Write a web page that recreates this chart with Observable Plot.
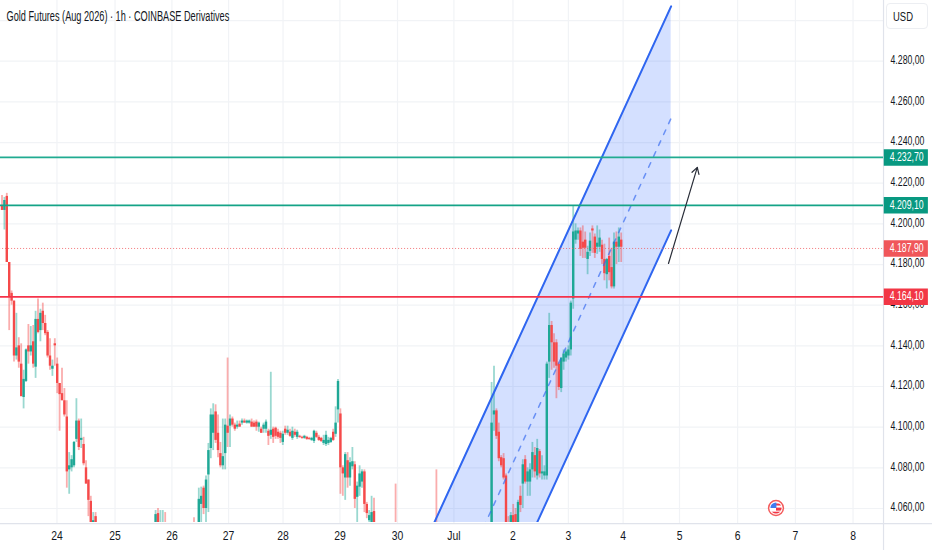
<!DOCTYPE html>
<html><head><meta charset="utf-8">
<script src="https://cdn.jsdelivr.net/npm/d3@7"></script>
<script src="https://cdn.jsdelivr.net/npm/@observablehq/plot@0.6"></script>
<style>
html,body{margin:0;padding:0;background:#fff;overflow:hidden}
#wrap{position:relative;width:932px;height:550px;font-family:"Liberation Sans",sans-serif}
#usd{position:absolute;left:886px;top:3px;width:42px;height:26px;border:1px solid #eceef2;border-radius:4px;box-sizing:border-box;font-size:13.5px;line-height:25px;color:#131722;padding-left:6px;background:#fff}
#usd span{display:inline-block;transform:scaleX(.7);transform-origin:left center}
#flag{position:absolute;left:767px;top:499px}
svg text{font-family:"Liberation Sans",sans-serif}
</style></head><body><div id="wrap"><div id="usd"><span>USD</span></div></div>
<script>
const titleText = "Gold Futures (Aug 2026) · 1h · COINBASE Derivatives";
const dayTicks = [22.9,47.1,70.8,94.4,117.1,140.8,164.8,188.3,212.9,236,258.8,282.3,306.5,330.6,354.6];
const dayLabels = ["24","25","26","27","28","29","30","Jul","2","3","4","5","6","7","8"];
const priceTicks = [4060,4080,4100,4120,4140,4160,4180,4200,4220,4240,4260,4280];
const priceGrid = [4060,4080,4100,4120,4140,4160,4180,4200,4220,4240,4260,4280,4300];

// [open, high, low, close], consecutive hourly bars from each start index
const segmentAStart = 0;
const segmentA = [
[4209,4214,4206.6,4206.6],[4206.6,4213,4197,4211.5],[4213.5,4215,4181,4181],[4181,4181,4147.5,4164],
[4165.8,4167,4160,4162],[4162,4162,4132,4135],[4135,4156,4133,4139],[4140,4144,4129,4132],
[4131,4141,4115,4115],[4114.6,4128,4109,4123.5],[4122.5,4138.5,4122,4138],[4140,4150.5,4131,4137],
[4137,4149.5,4135,4140],[4142,4150,4129,4131],[4129.5,4157,4124,4153],[4153,4163,4146,4146.6],
[4147.5,4158,4142,4156],[4157,4161,4147.5,4151],[4151,4155,4145,4146],[4146.6,4147.5,4134,4135],
[4135,4143.5,4128,4130],[4128.5,4133,4125,4130],[4141,4143.5,4130,4140],[4131,4134,4116.5,4121.5],
[4121.5,4121.5,4098,4116],[4116.5,4129,4113,4113],[4113,4119,4105,4106],[4105,4113,4070,4078],
[4079,4087.5,4067,4081],[4080,4086,4078,4084],[4081,4093,4080,4092.5],[4094,4114,4092.5,4103],
[4103,4104,4088.5,4090],[4093.5,4104,4089.5,4094.5],[4091.5,4095,4081,4082],[4080,4083.5,4072,4072],
[4074,4074,4056,4064],[4063.5,4066,4050,4053],[4048,4058,4045,4054],[4056,4058,4048,4053]];

const segmentBStart = 64;
const segmentB = [
[4045,4059,4040,4057],[4057.5,4060,4045,4045],[4050,4059,4045,4052],[4048,4059,4045,4050],[4050,4058,4045,4048]];

const segmentCStart = 80;
const segmentC = [
[4040,4055.5,4035,4038],[4040,4048,4035,4045],[4053,4070,4050,4064.5],[4062,4070.5,4050,4066],
[4070,4071,4057,4060],[4060,4076,4052,4074],[4076.5,4092,4058,4088.5],[4089.5,4109,4084.5,4106],
[4097,4111.5,4088.5,4106],[4107.5,4111,4092,4093.5],[4097,4106,4085,4088.5],[4087,4092.5,4080,4081],
[4081,4104,4079,4085.5],[4087,4104,4079,4101],[4100.5,4134,4090,4097],[4100.5,4106,4090,4104],
[4104,4105,4100,4101],[4101,4102,4098,4099],[4100,4103,4099,4101],[4101.5,4103,4100,4100],
[4102,4104,4101,4103],[4103,4104,4102,4102],[4102,4103.5,4101.5,4103],[4102,4103.5,4101.5,4103],
[4102.5,4104,4100,4100],[4102,4103,4100,4100],[4102.5,4103.5,4098,4100],[4100,4102.5,4097.5,4102],
[4099,4100,4097,4097],[4099,4102,4097,4101],[4099,4103.5,4097,4102.5],[4098,4099,4091,4095.5],
[4096,4127,4094,4098.5],[4099,4100,4092,4095],[4099.5,4100,4094,4095.5],[4097.5,4099,4094,4095],
[4097,4098,4092,4094.5],[4092.5,4098,4091,4096.5],[4099,4100.5,4096,4097],[4097,4100.5,4096,4098.5],
[4097.5,4099,4095,4095.5],[4094.5,4100,4093.5,4098],[4097.5,4099,4095,4096],[4095,4098.5,4094,4097.5],
[4095.5,4096,4094.5,4095],[4095,4095.5,4094,4094.5],[4094.5,4096,4094,4095.5],[4095,4095.5,4093.5,4094],
[4094.5,4095,4093.5,4094],[4093.5,4095,4093,4094.5],[4093,4098.5,4092,4098],[4097,4098,4094.5,4095],
[4095,4096,4093,4093.5],[4094.5,4095,4092.5,4093],[4092,4096,4091,4093.5],[4091.5,4098,4090.5,4096],
[4092,4095,4091,4093.5],[4092.5,4095,4092,4094.5],[4097.5,4099,4093,4093.5],[4096.5,4110,4095,4102],
[4108.5,4123.5,4102,4122.5],[4106.5,4109,4067,4080],[4080,4081,4066,4077],[4075,4087.5,4064,4086.5],
[4083.5,4087.5,4070,4075],[4075,4085,4071,4082.5],[4080.5,4090,4079,4083],[4081.5,4083,4060,4064.5],
[4065.5,4073,4050,4071],[4070.5,4081,4066,4077],[4073,4079,4070,4078],[4078,4079,4058,4062],
[4062,4063,4055,4057.5],[4054,4059,4050,4056.5],[4053,4066,4050,4058],[4058.5,4065,4050,4053]];

const loneBarIndex = [164,181];
const loneBars = [[4045,4072,4040,4042],[4045,4079,4040,4042]];

const segmentDStart = 204;
const segmentD = [
[4050,4122,4045,4102],[4106,4130,4098,4108],[4108,4109,4094,4095.5],[4097.5,4102,4083,4084.5],
[4085,4086,4080,4081],[4084.5,4087,4074,4075],[4076,4077,4045,4050],[4050,4056,4045,4047],
[4050,4058,4047,4056.5],[4056.5,4062,4050,4050],[4057,4060,4048,4050],[4050,4064,4048,4063],
[4066,4071,4058,4061.5],[4072,4084,4060,4081.5],[4084,4086,4072,4073],[4073,4080,4066,4078],
[4073,4082,4066,4079],[4079,4092.5,4075,4087.5],[4086,4090,4075,4078],[4076,4094,4074,4089.5],
[4088,4089,4075,4077],[4077,4086,4074,4078],[4076,4081,4074,4078],[4076,4132,4074,4131],
[4132,4156,4124,4150],[4150,4152,4128,4141.5],[4141.5,4146,4129,4132],[4141.5,4143,4114,4130],
[4131,4132,4118,4119.5],[4119,4134,4117,4134],[4132,4138,4128,4136],[4134,4138,4132,4137],
[4135,4140,4133,4138],[4138,4162,4135,4161],[4163,4209,4158,4196],[4192,4200,4190,4196.5],
[4195,4198,4192,4196.5],[4196.5,4198,4184,4187.5],[4191,4199,4183,4188],[4192,4196,4183,4188],
[4182.5,4189,4175,4186],[4186.5,4195.5,4184,4191.5],[4197.5,4199,4185.5,4196.5],[4193.5,4195,4183,4185.5],
[4188.5,4199,4185,4190.5],[4188.5,4197,4186,4193],[4189.5,4192,4180,4182.5],[4182.5,4190,4172,4175.5],
[4175,4183,4168,4182.5],[4184,4193,4172,4176],[4178.5,4188,4168,4169],[4169,4195.5,4168,4191],
[4191,4196,4180,4188.5],[4188.5,4198,4181,4193.5],[4192,4195.5,4181,4188.5]];

const channelX = [165.2,278.8];
const channelTop = [4014.7,4307];
const channelMid = [3959.6,4252];
const channelLow = [3904.5,4196.8];
const arrowFrom = [277.7,4180.5];
const arrowTo = [289.7,4227.8];
const levelPrices = [4232.7,4209.1,4164.1];
const levelColors = ["#20ab91","#14a387","#f5334a"];
const currentPrice = 4187.9;
const tagPrices = [4232.7,4209.1,4187.9,4164.1];
const tagLabels = ["4.232,70","4.209,10","4.187,90","4.164,10"];
const tagColors = ["#089981","#089981","#f0565a","#f23645"];
const upColor = "#1fa896";
const downColor = "#f54a4a";

const toBars = (rows, start) => rows.map((r,k)=>({i:start+k,open:r[0],high:r[1],low:r[2],close:r[3]}));
const bars = [...toBars(segmentA,segmentAStart),...toBars(segmentB,segmentBStart),...toBars(segmentC,segmentCStart),
  ...loneBars.map((r,k)=>toBars([r],loneBarIndex[k])[0]),...toBars(segmentD,segmentDStart)];
const barColor = d => d.close>=d.open?upColor:downColor;
const channel = channelX.map((x,k)=>({x,top:channelTop[k],mid:channelMid[k],low:channelLow[k]}));
const fmt = d => d3.format(",.2f")(d).replace(/,/g,"#").replace(".",",").replace(/#/g,".");
const frameRightIndex = 367.3, tagLeft = 367.6, tagRight = 386;

const chart = Plot.plot({
  width:932,height:550,
  marginTop:0,marginLeft:0,marginRight:49,marginBottom:28,
  style:{background:"#fff",color:"#131722",fontFamily:'"Liberation Sans",sans-serif',fontSize:"13.5px"},
  x:{domain:[0,100],range:[1.5,241.5]},
  y:{domain:[4060,4220],range:[508,182.7]},
  color:{type:"identity"},
  marks:[
    Plot.ruleY(priceGrid,{stroke:"#f1f3f6",strokeWidth:1.2,x1:-1,x2:frameRightIndex}),
    Plot.ruleX(dayTicks,{stroke:"#f1f3f6",strokeWidth:1.2,y1:4052.6,y2:4310}),
    Plot.ruleY([4052.6],{stroke:"#e0e3eb",strokeWidth:1.2,x1:-1,x2:388}),
    Plot.ruleX([frameRightIndex],{stroke:"#e0e3eb",strokeWidth:1.2,y1:3990,y2:4310}),
    Plot.axisX({ticks:dayTicks,tickFormat:(d,i)=>dayLabels[i],tickSize:0,tickPadding:8,label:null,anchor:"bottom",fontSize:13}),
    Plot.axisY({anchor:"right",ticks:priceTicks,tickFormat:fmt,tickSize:0,tickPadding:7,dy:-1.5,label:null,fontSize:13.5}),
    Plot.areaY(channel,{x:"x",y1:"low",y2:"top",fill:"#2962ff",fillOpacity:0.2,clip:"frame"}),
    Plot.ruleX(bars,{x:"i",y1:"low",y2:"high",stroke:barColor,strokeWidth:1.8,strokeOpacity:0.45,clip:"frame"}),
    Plot.ruleX(bars,{x:"i",y1:"open",y2:"close",stroke:barColor,strokeWidth:2.4,clip:"frame"}),
    Plot.line(channel,{x:"x",y:"top",stroke:"#2f66f0",strokeWidth:2,clip:"frame"}),
    Plot.line(channel,{x:"x",y:"low",stroke:"#2f66f0",strokeWidth:2,clip:"frame"}),
    Plot.line(channel,{x:"x",y:"mid",stroke:"#2f66f0",strokeWidth:1.5,strokeOpacity:0.65,strokeDasharray:"5 7",clip:"frame"}),
    Plot.ruleY([currentPrice],{stroke:"#f0565a",strokeWidth:1,strokeOpacity:0.8,strokeDasharray:"1 2",x1:-1,x2:frameRightIndex}),
    Plot.ruleY(levelPrices,{stroke:(d,i)=>levelColors[i],strokeWidth:1.7,x1:-1,x2:frameRightIndex}),
    Plot.arrow([0],{x1:()=>arrowFrom[0],y1:()=>arrowFrom[1],x2:()=>arrowTo[0],y2:()=>arrowTo[1],stroke:"#2a2e39",strokeWidth:1.2,headLength:9,bend:false}),
    Plot.ruleY(tagPrices,{stroke:(d,i)=>tagColors[i],strokeWidth:16.5,x1:tagLeft,x2:tagRight}),
    Plot.text(tagPrices,{x:tagLeft,y:d=>d,text:(d,i)=>tagLabels[i],fill:"#fff",textAnchor:"start",dx:5.5,dy:-1,fontSize:13.5}),
    Plot.text([titleText],{frameAnchor:"top-left",dx:6,dy:10,textAnchor:"start",fontSize:14.5,fill:"#131722"})
  ]
});
document.getElementById("wrap").prepend(chart);
chart.style.display="block";
chart.style.position="absolute";chart.style.left="0";chart.style.top="0";
// the reference's label face is condensed: narrow the real text to the reference's widths
chart.querySelectorAll("text").forEach(t=>{
  const w=t.getComputedTextLength();
  const target = t.textContent===titleText ? 223 : t.textContent.length>=8 ? 34 : w*0.8;
  const s = target/w;
  const g = document.createElementNS("http://www.w3.org/2000/svg","g");
  if (t.hasAttribute("transform")) { g.setAttribute("transform",t.getAttribute("transform")); t.removeAttribute("transform"); }
  t.parentNode.insertBefore(g,t); g.appendChild(t);
  const x = +t.getAttribute("x")||0;
  t.setAttribute("transform",`translate(${x},0) scale(${s},1) translate(${-x},0)`);
});
document.getElementById("usd").style.zIndex=2;
document.getElementById("wrap").insertAdjacentHTML("beforeend",`<svg id="flag" width="18" height="18" viewBox="0 0 18 18" style="z-index:2">
<clipPath id="fc"><circle cx="9" cy="9" r="5.6"/></clipPath>
<circle cx="9" cy="9" r="7.4" fill="#fff" stroke="#f45b5b" stroke-width="1.5"/>
<g clip-path="url(#fc)"><rect x="3" y="3" width="12" height="12" fill="#fff"/>
<rect x="9" y="4.5" width="6" height="2" fill="#f23645"/><rect x="9" y="8.6" width="6" height="3" fill="#f23645"/><rect x="3" y="12.7" width="12" height="3" fill="#f23645"/>
<rect x="3" y="3" width="6.4" height="6" fill="#3f7bf0"/></g></svg>`);
</script></body></html>
